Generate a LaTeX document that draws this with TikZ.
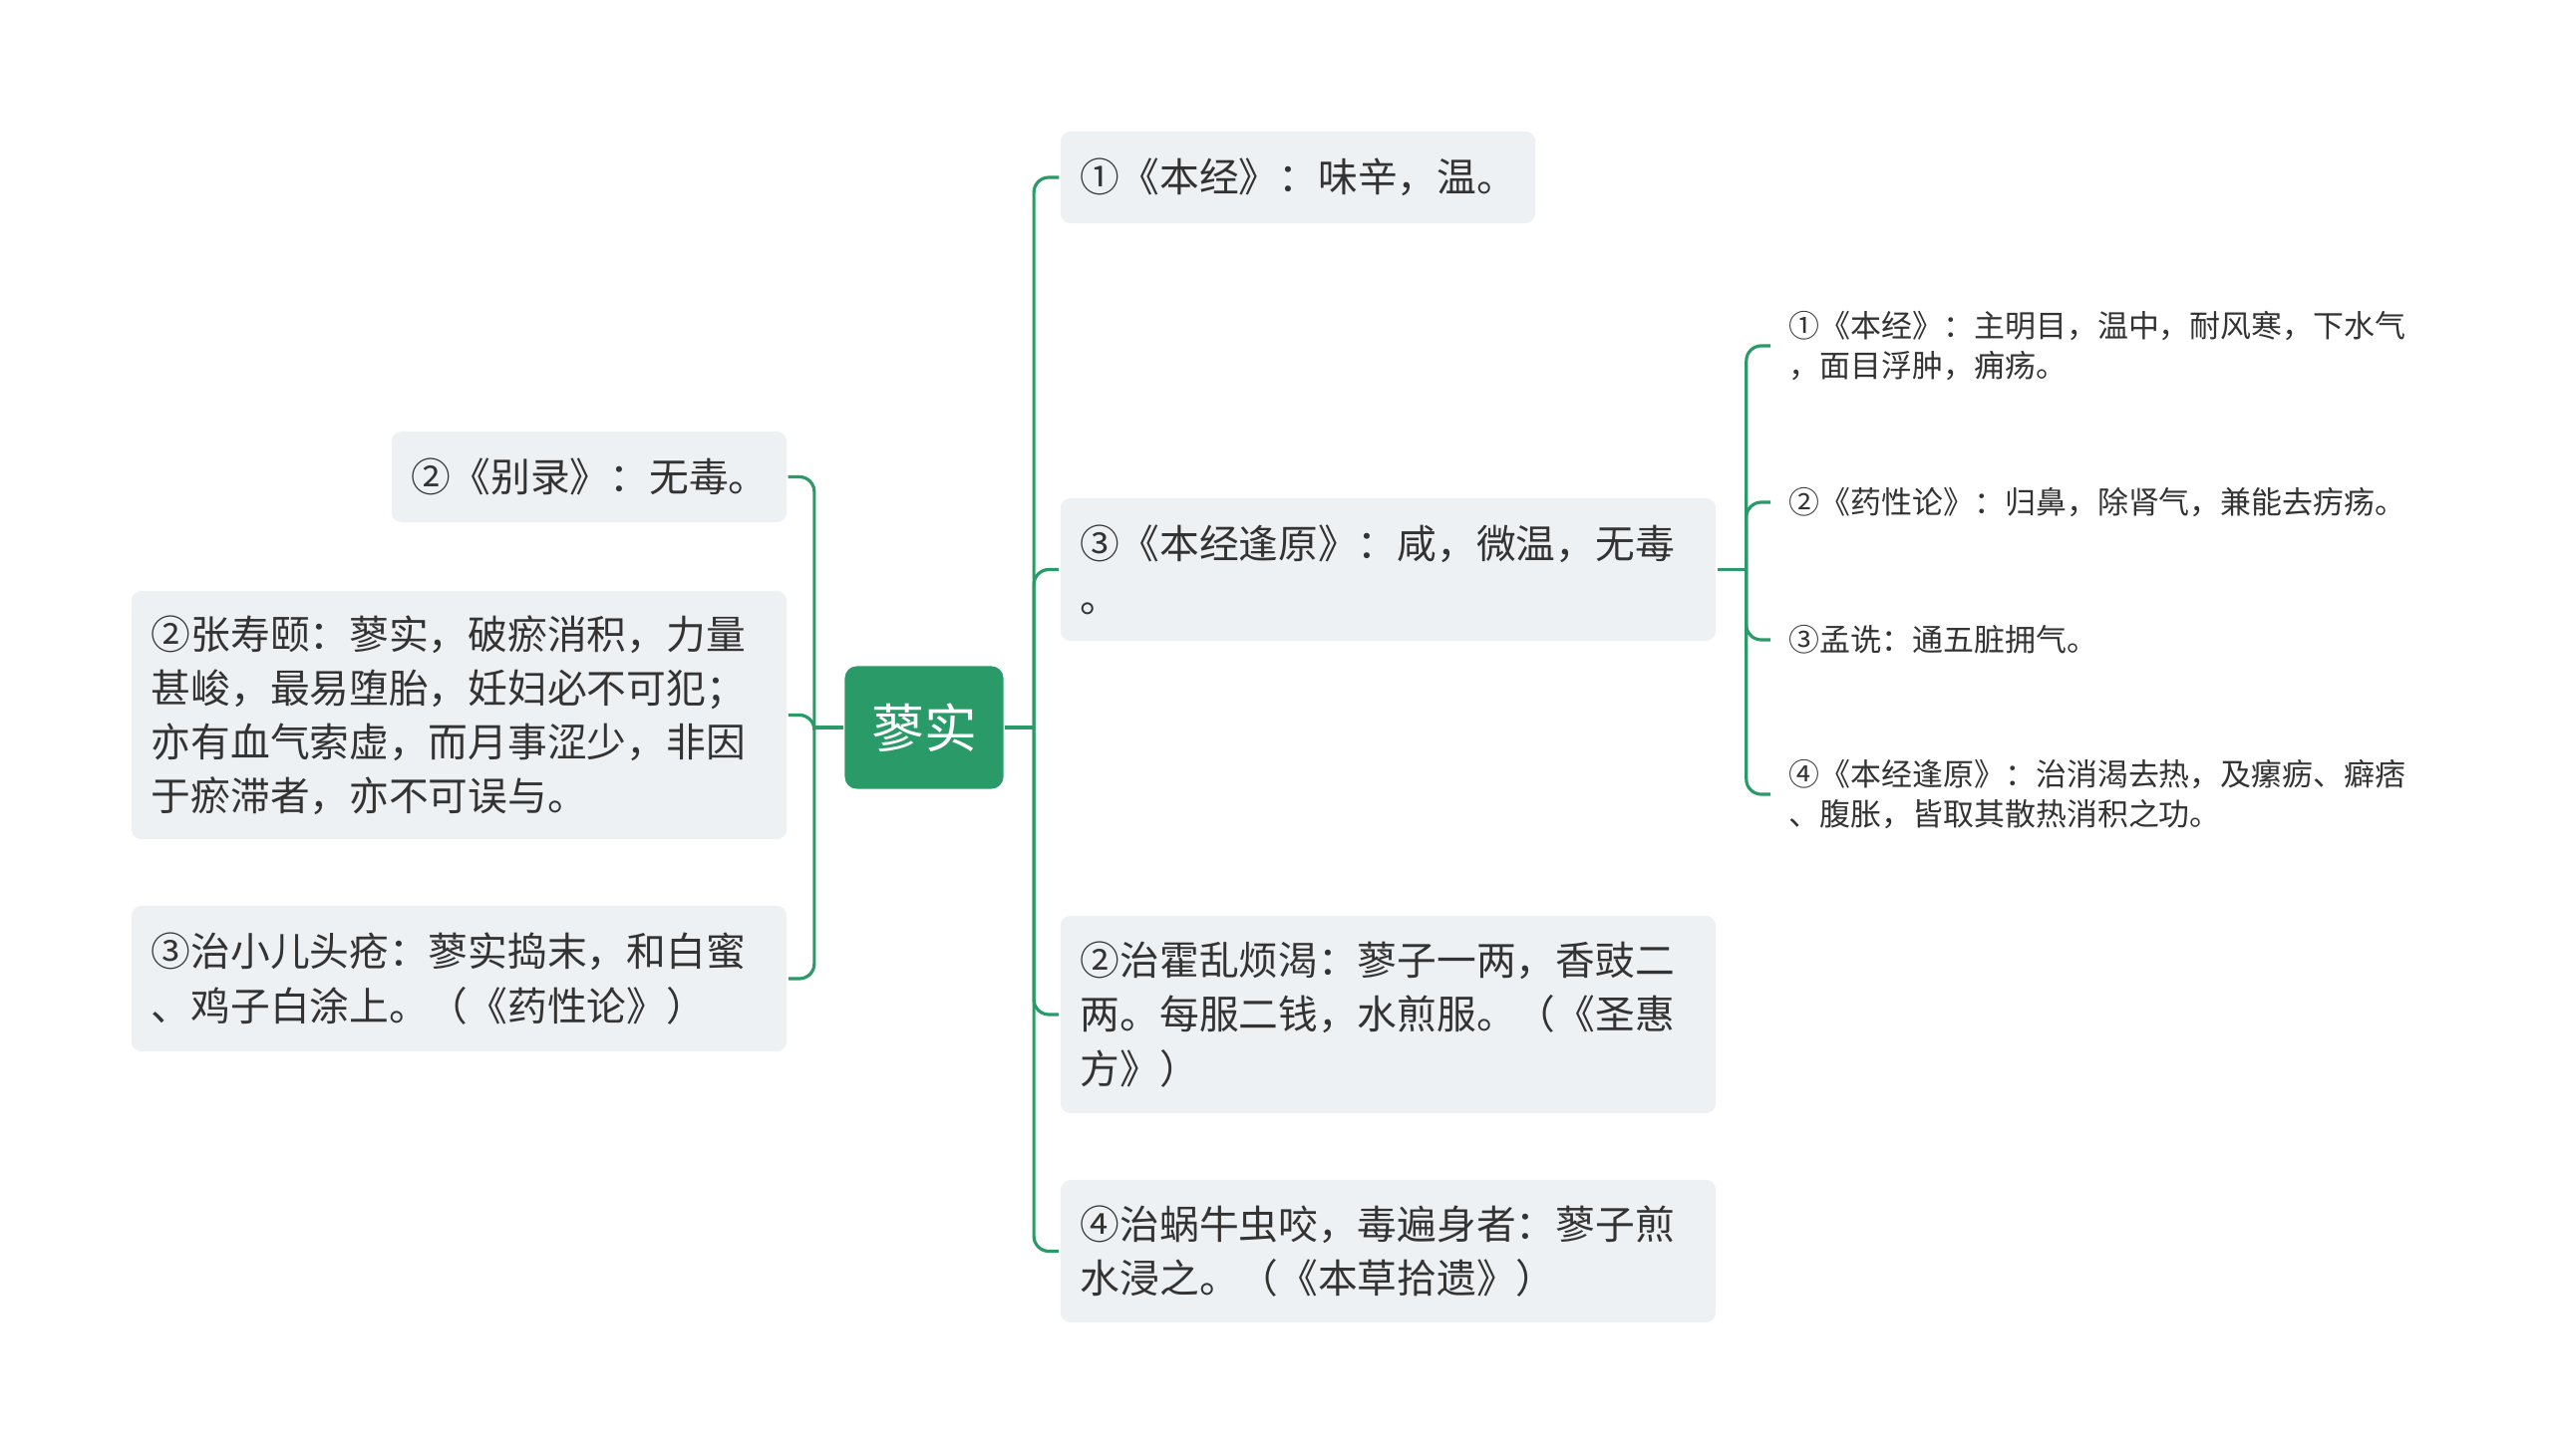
\documentclass[tikz,border=0pt]{standalone}
\usepackage{fontspec}
\setmainfont{Noto Sans CJK SC}
\usetikzlibrary{positioning}
\definecolor{mapgreen}{RGB}{42,154,104}
\definecolor{cardgray}{RGB}{238,241,244}
\definecolor{inkgray}{RGB}{51,51,51}
\tikzset{
  every picture/.style={line width=0.9pt},
  hub/.style={draw=none,fill=mapgreen,rounded corners=1.2mm,minimum width=1.59cm,minimum height=1.23cm,
    text=white,font=\fontsize{15pt}{18pt}\selectfont},
  card/.style={fill=cardgray,rounded corners=1mm,inner xsep=2mm,inner ysep=0pt,align=left,
    text=inkgray,font=\fontsize{11.3pt}{15.4pt}\selectfont},
  leaf/.style={anchor=west,inner xsep=1.7mm,inner ysep=0pt,align=left,
    text=inkgray,font=\fontsize{8.8pt}{11.6pt}\selectfont},
  brn/.style={draw=mapgreen,line width=0.9pt},
  elbow/.style={brn,rounded corners=1.5mm},
}

\begin{document}
\begin{tikzpicture}[x=0.01cm,y=-0.01cm]
\useasboundingbox[fill=white] (0,0) rectangle (2560,1461);
% centre
\node[hub] (R) at (927,730) {蓼实};
% left cards
\node[card,text width=3.56cm,minimum height=0.91cm] (L1) at (591,478.5) {②《别录》：无毒。};
\node[card,text width=6.17cm,minimum height=2.49cm] (L2) at (460.5,717.5)
  {②张寿颐：蓼实，破瘀消积，力量\\甚峻，最易堕胎，妊妇必不可犯；\\亦有血气索虚，而月事涩少，非因\\于瘀滞者，亦不可误与。};
\node[card,text width=6.17cm,minimum height=1.46cm] (L3) at (460.5,982)
  {③治小儿头疮：蓼实捣末，和白蜜\\、鸡子白涂上。（《药性论》）};
% right cards
\node[card,text width=4.36cm,minimum height=0.92cm] (T1) at (1302,178) {①《本经》：味辛，温。};
\node[card,text width=6.17cm,minimum height=1.43cm] (T3) at (1392.5,571.5) {③《本经逢原》：咸，微温，无毒\\。};
\node[card,text width=6.17cm,minimum height=1.98cm] (T2) at (1392.5,1018)
  {②治霍乱烦渴：蓼子一两，香豉二\\两。每服二钱，水煎服。（《圣惠\\方》）};
\node[card,text width=6.17cm,minimum height=1.43cm] (T4) at (1392.5,1255.5)
  {④治蜗牛虫咬，毒遍身者：蓼子煎\\水浸之。（《本草拾遗》）};
% leaves of the third card
\node[leaf] (S1) at (1776,347) {①《本经》：主明目，温中，耐风寒，下水气\\，面目浮肿，痈疡。};
\node[leaf] (S2) at (1776,504) {②《药性论》：归鼻，除肾气，兼能去疠疡。};
\node[leaf] (S3) at (1776,642) {③孟诜：通五脏拥气。};
\node[leaf] (S4) at (1776,797) {④《本经逢原》：治消渴去热，及瘰疬、癖痞\\、腹胀，皆取其散热消积之功。};
% branches
\draw[brn] (R.west) -- ++(-29,0) coordinate (lj);
\draw[brn] (R.east) -- ++(29,0) coordinate (rj);
\draw[brn] (T3.east) -- ++(29,0) coordinate (sj);
\foreach \n in {L1,L2,L3}{\draw[elbow] (lj) |- (\n.east);}
\foreach \n in {T1,T3,T2,T4}{\draw[elbow] (rj) |- (\n.west);}
\foreach \n in {S1,S2,S3,S4}{\draw[elbow] (sj) |- (\n.west);}
\end{tikzpicture}
\end{document}
